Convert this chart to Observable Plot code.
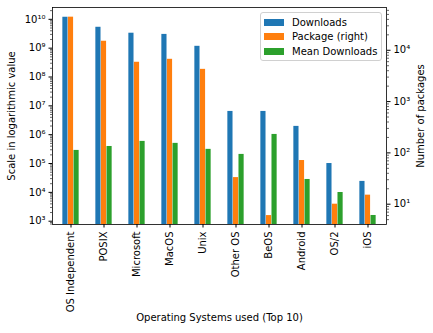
<!DOCTYPE html>
<html>
<head>
<meta charset="utf-8">
<script src="https://cdn.jsdelivr.net/npm/d3@7"></script>
<script src="https://cdn.jsdelivr.net/npm/@observablehq/plot@0.6"></script>
<style>
  html, body { margin: 0; padding: 0; background: #fff; }
  #chart { position: relative; width: 433px; height: 333px; font-family: "DejaVu Sans", sans-serif; }
  #chart > svg, #chart > figure { position: absolute; left: 0; top: 0; margin: 0; }
  #legend { position: absolute; left: 260px; top: 12px; width: 120px; height: 47px; border: 1px solid #d0d0d0; border-radius: 3px; background: rgba(255,255,255,0.8); font-size: 10px; color: #000; }
  #legend .row { position: absolute; left: 3px; height: 14px; display: flex; align-items: center; white-space: nowrap; }
  #legend .sw { width: 20px; height: 7px; margin-right: 8px; }
</style>
</head>
<body>
<div id="chart"></div>
<script>
// ---- data ----
const categories = ["OS Independent", "POSIX", "Microsoft", "MacOS", "Unix", "Other OS", "BeOS", "Android", "OS/2", "iOS"];
const downloads = [1.18e10, 5.3e9, 3.3e9, 3.0e9, 1.16e9, 6.4e6, 6.4e6, 1.94e6, 1.0e5, 2.4e4];
const packages = [44200, 15000, 5840, 6670, 4250, 33, 6, 71, 10, 15];
const meanDownloads = [2.85e5, 3.9e5, 5.85e5, 5.0e5, 3.1e5, 2.07e5, 1.02e6, 2.8e4, 9.9e3, 1.58e3];
const seriesNames = ["Downloads", "Package (right)", "Mean Downloads"];
const leftTicks = [1e3, 1e4, 1e5, 1e6, 1e7, 1e8, 1e9, 1e10];
const rightTicks = [1e1, 1e2, 1e3, 1e4];
const leftDomain = [769, 2.57e10];
const rightDomain = [4.02, 68200];

// ---- layout / style ----
const colors = ["#1f77b4", "#ff7f0e", "#2ca02c"];
const W = 433, H = 333, ML = 52, MR = 47, MT = 7, MB = 109;
const band = (W - ML - MR) / categories.length;
const barW = band * 0.5 / 3;
const groupStart = band / 2 - 1.5 * barW;
const inset = (k) => ({ insetLeft: groupStart + k * barW, insetRight: band - groupStart - (k + 1) * barW });

const rows = categories.map((os, i) => ({ os, downloads: downloads[i], packages: packages[i], mean: meanDownloads[i] }));

const supMap = { "0": "⁰", "1": "¹", "2": "²", "3": "³", "4": "⁴", "5": "⁵", "6": "⁶", "7": "⁷", "8": "⁸", "9": "⁹", "-": "⁻" };
const fmtPow = (d) => "10" + String(Math.round(Math.log10(d))).split("").map(c => supMap[c]).join("");
function minorTicks(domain) {
  const out = [];
  for (let e = Math.floor(Math.log10(domain[0])); e <= Math.ceil(Math.log10(domain[1])); e++) {
    for (let k = 2; k <= 9; k++) {
      const v = k * Math.pow(10, e);
      if (v >= domain[0] && v <= domain[1]) out.push(v);
    }
  }
  return out;
}

const style = { fontFamily: "DejaVu Sans, sans-serif", fontSize: "10px", background: "transparent", overflow: "visible", color: "#000" };
const common = { width: W, height: H, marginLeft: ML, marginRight: MR, marginTop: MT, marginBottom: MB, style,
  x: { type: "band", domain: categories, padding: 0 } };

const p1 = Plot.plot({
  ...common,
  y: { type: "log", domain: leftDomain },
  marks: [
    Plot.barY(rows, { x: "os", y1: leftDomain[0], y2: "downloads", fill: colors[0], ...inset(0) }),
    Plot.barY(rows, { x: "os", y1: leftDomain[0], y2: "mean", fill: colors[2], ...inset(2) }),
    Plot.axisX({ tickRotate: -90, tickSize: 3.5, tickPadding: 3.5, label: "Operating Systems used (Top 10)", labelAnchor: "center", labelOffset: 96, labelArrow: "none" }),
    Plot.axisY({ anchor: "left", ticks: leftTicks, tickFormat: fmtPow, tickSize: 3.5, tickPadding: 3.5, label: "Scale in logarithmic value", labelAnchor: "center", labelOffset: 45, labelArrow: "none" }),
    Plot.axisY({ anchor: "left", ticks: minorTicks(leftDomain), tickFormat: () => "", tickSize: 2, label: null, strokeWidth: 0.6 })
  ]
});

const p2 = Plot.plot({
  ...common,
  x: { ...common.x, axis: null },
  y: { type: "log", domain: rightDomain },
  marks: [
    Plot.barY(rows, { x: "os", y1: rightDomain[0], y2: "packages", fill: colors[1], ...inset(1) }),
    Plot.axisY({ anchor: "right", ticks: rightTicks, tickFormat: fmtPow, tickSize: 3.5, tickPadding: 3.5, label: "Number of packages", labelAnchor: "center", labelOffset: 37, labelArrow: "none" }),
    Plot.axisY({ anchor: "right", ticks: minorTicks(rightDomain), tickFormat: () => "", tickSize: 2, label: null, strokeWidth: 0.6 }),
    Plot.frame({ stroke: "#000", strokeWidth: 0.8 })
  ]
});

const chart = document.getElementById("chart");
chart.appendChild(p1);
chart.appendChild(p2);

const legend = document.createElement("div");
legend.id = "legend";
seriesNames.forEach((name, i) => {
  const row = document.createElement("div");
  row.className = "row";
  row.style.top = (2 + i * 14.6) + "px";
  const sw = document.createElement("span");
  sw.className = "sw";
  sw.style.background = colors[i];
  const t = document.createElement("span");
  t.textContent = name;
  row.appendChild(sw);
  row.appendChild(t);
  legend.appendChild(row);
});
chart.appendChild(legend);
</script>
</body>
</html>
